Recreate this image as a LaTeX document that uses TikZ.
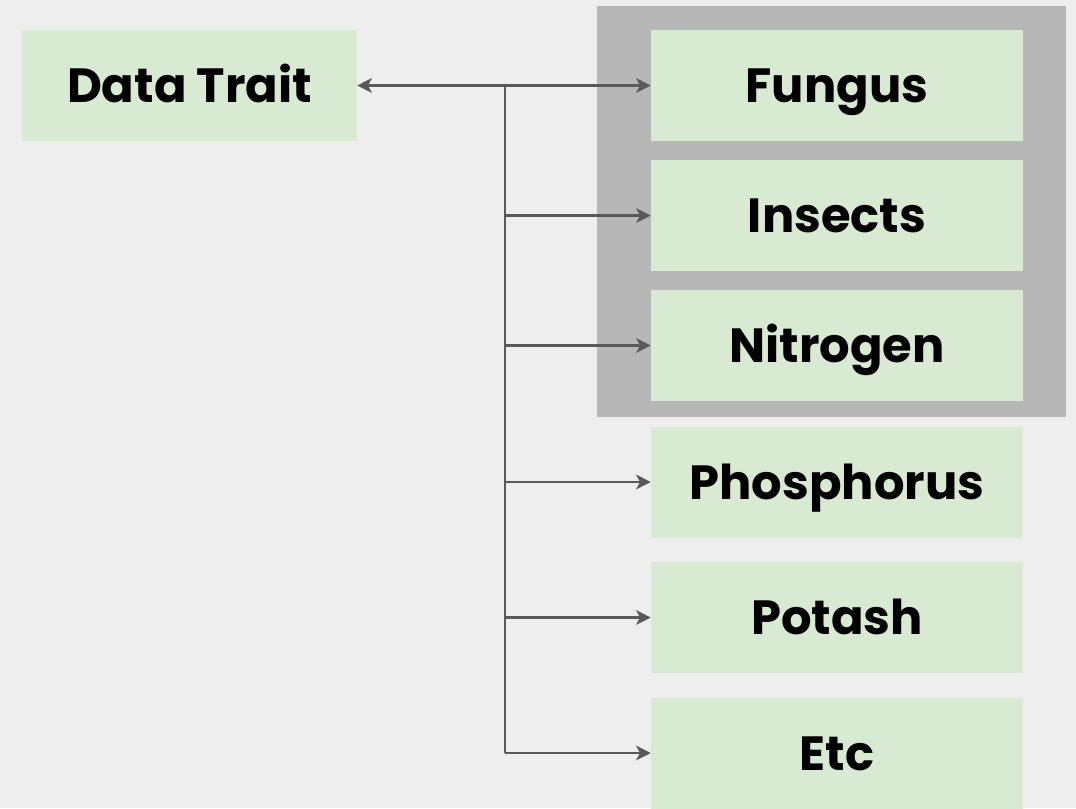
\documentclass[tikz,border=0pt]{standalone}
\usepackage{fontspec}
\setmainfont{Poppins}[BoldFont=* Bold]
\usetikzlibrary{arrows.meta}
\definecolor{bgcol}{HTML}{EEEEEE}
\definecolor{boxgreen}{HTML}{D9EAD3}
\definecolor{groupgray}{HTML}{B7B7B7}
\definecolor{linkgray}{HTML}{595959}
\tikzset{
  tip/.tip={Stealth[length=11pt,width=11pt,inset=3pt]},
  item/.style={fill=boxgreen, draw=none, minimum width=372*0.75pt, minimum height=111*0.75pt,
    inner sep=0pt, font=\fontsize{36}{40}\selectfont\bfseries, text=black,
    text height=25.5pt, text depth=0pt},
  link/.style={draw=linkgray, line width=1.6pt, -tip},
}
\begin{document}
\begin{tikzpicture}[x=0.75pt, y=-0.75pt]
  \useasboundingbox[fill=bgcol] (0,0) rectangle (1076,808);
  % highlighted group behind the first three items
  \fill[groupgray] (597,6) rectangle (1066,417);
  % source node
  \node[item, minimum width=335*0.75pt] (trait) at (189.5,85.5) {Data Trait};
  % target nodes
  \node[item] (fungus) at (837,85.5) {Fungus};
  \node[item] (insects) at (837,215.5) {Insects};
  \node[item] (nitrogen) at (837,345.5) {Nitrogen};
  \node[item] (phos) at (837,482) {Phosphorus};
  \node[item] (potash) at (837,617.5) {Potash};
  \node[item] (etc) at (837,753) {Etc};
  % trunk line
  \coordinate (top) at (505,85.5);
  \coordinate (bottom) at (505,753);
  \draw[draw=linkgray, line width=1.6pt] (top) -- (bottom);
  \draw[link, tip-tip] (trait.east) -- (fungus.west);
  \foreach \t in {insects,nitrogen,phos,potash,etc}
    \draw[link] (top |- \t.west) -- (\t.west);
\end{tikzpicture}
\end{document}
